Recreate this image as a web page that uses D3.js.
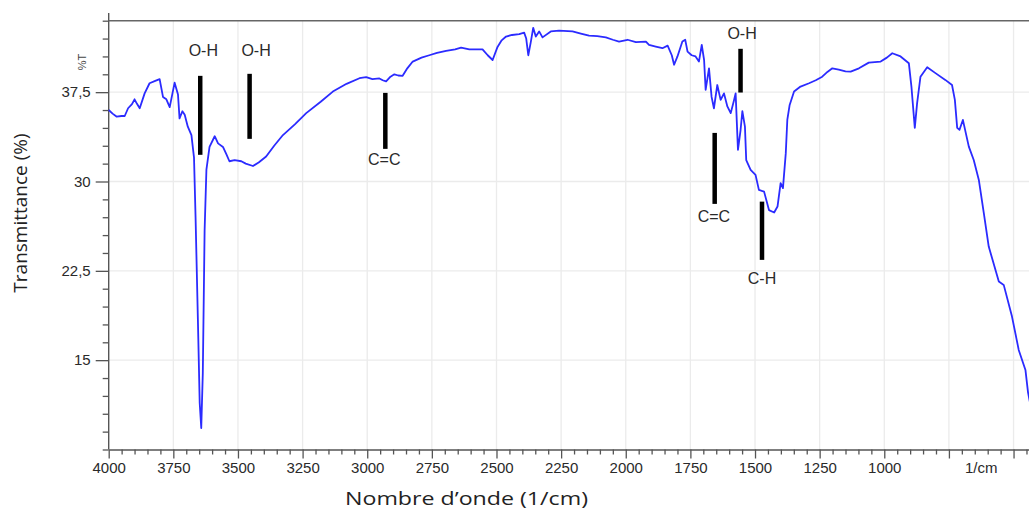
<!DOCTYPE html>
<html>
<head>
<meta charset="utf-8">
<script src="https://cdn.jsdelivr.net/npm/d3@7"></script>
<style>
  body { margin: 0; background: #fff; }
  svg { display: block; }
</style>
</head>
<body>
<svg id="chart" width="1029" height="511"></svg>
<script>
// spectre IR
var wavenumbers = [4000,3985,3970,3950,3938,3925,3910,3900,3890,3880,3861,3842,3820,3803,3790,3777,3764,3745,3732,3726,
  3715,3706,3694,3680,3670,3664,3655,3648,3642,3636,3629,3622,3610,3590,3577,3558,3545,3533,3513,3487,
  3470,3442,3420,3391,3360,3326,3280,3236,3180,3133,3080,3030,3004,2980,2953,2940,2927,2910,2895,2880,
  2863,2845,2824,2790,2760,2730,2695,2660,2637,2605,2575,2554,2534,2515,2496,2480,2463,2440,2412,2393,
  2385,2377,2367,2358,2348,2335,2322,2290,2258,2206,2170,2142,2110,2077,2050,2026,1993,1961,1922,1910,
  1884,1858,1838,1822,1813,1800,1781,1770,1761,1745,1730,1717,1706,1697,1691,1678,1668,1659,1646,1633,
  1620,1607,1594,1581,1575,1566,1556,1549,1539,1534,1517,1498,1485,1465,1446,1426,1413,1401,1392,1381,
  1375,1366,1349,1324,1291,1265,1240,1220,1201,1176,1150,1130,1098,1060,1014,990,969,937,905,895,
  882,873,860,834,802,764,738,727,718,709,696,673,654,634,615,596,557,538,506,480,
  454,444,420];
var transmittance = [36.0,35.7,35.45,35.5,35.5,36.15,36.5,36.9,36.5,36.15,37.4,38.25,38.45,38.6,37.1,36.9,36.25,38.3,37.3,35.3,
  35.9,35.6,34.6,33.9,32.0,27.0,18.4,11.4,9.3,13.9,25.9,31.0,32.9,33.8,33.2,32.9,32.3,31.7,31.8,31.7,
  31.5,31.3,31.6,32.1,33.0,33.9,34.8,35.74,36.7,37.55,38.2,38.67,38.76,38.6,38.65,38.5,38.4,38.8,39.0,38.9,
  38.87,39.5,40.07,40.4,40.6,40.8,40.97,41.1,41.24,41.1,41.1,41.1,40.6,40.2,41.3,41.85,42.17,42.3,42.37,42.5,
  42.0,40.6,41.75,42.9,42.17,42.6,42.1,42.6,42.67,42.6,42.4,42.25,42.2,42.1,41.9,41.75,41.9,41.7,41.75,41.47,
  41.33,41.19,41.41,40.6,39.8,40.5,41.75,41.9,40.9,40.6,40.5,40.07,41.47,40.2,37.7,39.5,37.1,36.15,38.1,36.85,
  37.4,36.3,35.74,36.85,37.4,32.66,34.3,35.9,34.6,31.8,30.98,30.56,29.3,29.15,27.6,27.4,27.9,29.86,29.44,32.38,
  35.2,36.43,37.55,37.97,38.25,38.5,38.8,39.2,39.5,39.4,39.25,39.23,39.5,39.98,40.07,40.4,40.77,40.5,39.93,37.97,
  34.5,36.58,38.8,39.6,39.1,38.53,38.1,36.85,34.5,34.34,35.17,32.93,31.8,30.1,27.34,24.54,21.6,21.32,18.66,15.86,
  14.18,12.3,9.6];

var xMajor = [4000,3750,3500,3250,3000,2750,2500,2250,2000,1750,1500,1250,1000,750,500];
var xLabels = ["4000","3750","3500","3250","3000","2750","2500","2250","2000","1750","1500","1250","1000","",""];
var yMajor = [15, 22.5, 30, 37.5];
var yLabels = ["15", "22,5", "30", "37,5"];

// annotations (bandes)
var annLabels = ["O-H", "O-H", "C=C", "O-H", "C=C", "C-H"];
var annWn     = [3646, 3455, 2930, 1556, 1656, 1473];
var annTop    = [38.87, 39.04, 37.44, 41.14, 34.08, 28.31];
var annBottom = [32.24, 33.58, 32.74, 37.47, 28.12, 23.42];
var annTextWn = [3634, 3430, 2934, 1550, 1659, 1473];
var annTextV  = [40.99, 40.99, 31.82, 42.4, 27.03, 21.9];

var svg = d3.select("#chart");

var x = d3.scaleLinear().domain([4000, 400]).range([108.7, 1039.4]);
var y = d3.scaleLinear().domain([7.5, 43.5]).range([449.5, 20.7]);

var tickFont = "'Liberation Sans', Arial, sans-serif";

// grille
svg.append("g").selectAll("line").data(xMajor.slice(1)).enter().append("line")
  .attr("x1", d => x(d)).attr("x2", d => x(d))
  .attr("y1", y(43.5)).attr("y2", y(7.5))
  .attr("stroke", "#ebebeb").attr("stroke-width", 1.3);
svg.append("g").selectAll("line").data(yMajor).enter().append("line")
  .attr("x1", x(4000)).attr("x2", 1029)
  .attr("y1", d => y(d)).attr("y2", d => y(d))
  .attr("stroke", "#ebebeb").attr("stroke-width", 1.3);

// axe x
var xMinor = d3.range(4000, 399, -50).filter(d => d % 250 !== 0);
svg.append("g").attr("transform", "translate(0," + y(7.5) + ")")
  .call(d3.axisBottom(x).tickValues(xMinor).tickSize(5).tickFormat(""))
  .call(g => g.select(".domain").remove());
var gx = svg.append("g").attr("transform", "translate(0," + y(7.5) + ")")
  .call(d3.axisBottom(x).tickValues(xMajor).tickSize(9).tickSizeOuter(0).tickPadding(4)
    .tickFormat((d, i) => xLabels[i]));
svg.append("text")
  .attr("x", x(625)).attr("y", y(7.5) + 23.5)
  .attr("text-anchor", "middle")
  .style("font-family", tickFont).style("font-size", "15px").attr("fill", "#2a2a2a")
  .text("1/cm");

// axe y
var yMinor = d3.range(7.5, 43.6, 1.5).filter(d => yMajor.indexOf(d) < 0);
svg.append("g").attr("transform", "translate(" + x(4000) + ",0)")
  .call(d3.axisLeft(y).tickValues(yMinor).tickSize(6).tickFormat(""))
  .call(g => g.select(".domain").remove());
var gy = svg.append("g").attr("transform", "translate(" + x(4000) + ",0)")
  .call(d3.axisLeft(y).tickValues(yMajor).tickSize(13).tickPadding(5)
    .tickFormat((d, i) => yLabels[i]))
  .call(g => g.select(".domain").remove());

[gx, gy].forEach(function(g) {
  g.selectAll("text").style("font-family", tickFont).style("font-size", "15px").attr("fill", "#2a2a2a");
});
svg.selectAll(".tick line").attr("stroke", "#555").attr("stroke-width", 1.3);
gx.select(".domain").attr("stroke", "#555").attr("stroke-width", 1.4);

// cadre
svg.append("line").attr("x1", x(4000)).attr("x2", x(4000)).attr("y1", 13).attr("y2", y(7.5))
  .attr("stroke", "#555").attr("stroke-width", 1.4);
svg.append("line").attr("x1", x(4000)).attr("x2", 1029).attr("y1", y(43.5)).attr("y2", y(43.5))
  .attr("stroke", "#666").attr("stroke-width", 1.4);

// spectre
var pts = wavenumbers.map((w, i) => [w, transmittance[i]]);
var line = d3.line().x(d => x(d[0])).y(d => y(d[1]));
svg.append("path").datum(pts)
  .attr("d", line)
  .attr("fill", "none")
  .attr("stroke", "#2b2bff")
  .attr("stroke-width", 1.8)
  .attr("stroke-linejoin", "round");

// annotations
annLabels.forEach(function(lab, i) {
  svg.append("line")
    .attr("x1", x(annWn[i])).attr("x2", x(annWn[i]))
    .attr("y1", y(annTop[i])).attr("y2", y(annBottom[i]))
    .attr("stroke", "#000").attr("stroke-width", 4.5);
  svg.append("text")
    .attr("x", x(annTextWn[i])).attr("y", y(annTextV[i]))
    .attr("dy", "0.35em")
    .attr("text-anchor", "middle")
    .style("font-family", tickFont).style("font-size", "16px").attr("fill", "#2a2a2a")
    .text(lab);
});

// titres
svg.append("text")
  .attr("transform", "translate(86,62) rotate(-90)")
  .attr("text-anchor", "middle")
  .style("font-family", tickFont).style("font-size", "11px").attr("fill", "#444")
  .text("%T");

svg.append("text")
  .attr("transform", "translate(27,213) rotate(-90)")
  .attr("text-anchor", "middle")
  .style("font-family", "'Open Sans', sans-serif").style("font-size", "19px").attr("fill", "#222")
  .text("Transmittance (%)");

svg.append("text")
  .attr("x", 345).attr("y", 505)
  .attr("textLength", 243).attr("lengthAdjust", "spacingAndGlyphs")
  .style("font-family", "'Open Sans', sans-serif").style("font-size", "19px").attr("fill", "#222")
  .text("Nombre d\u2019onde (1/cm)");
</script>
</body>
</html>
